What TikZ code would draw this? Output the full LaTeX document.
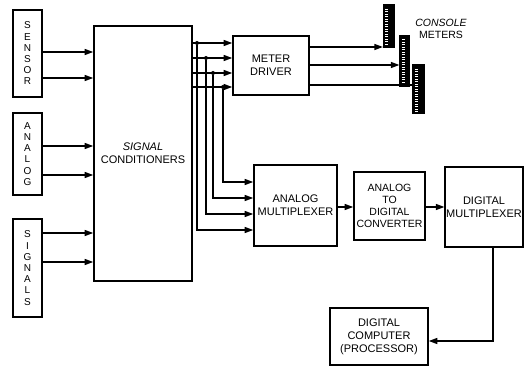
\documentclass[tikz,border=0pt]{standalone}
\usepackage{fontspec}
\setmainfont{Liberation Sans}
\usetikzlibrary{arrows.meta}
\begin{document}
\begin{tikzpicture}[x=1pt,y=-1pt,
  box/.style={draw, line width=1.6pt, inner sep=1pt, align=center,
    font=\fontsize{11}{13}\selectfont},
  vbox/.style={draw, line width=1.6pt, inner sep=0pt, align=center,
    minimum width=29pt, font=\fontsize{10}{11.2}\selectfont},
  arr/.style={line width=1.3pt, -{Triangle[length=8.5pt,width=6pt]}},
  ln/.style={line width=1.3pt},
  dot/.style={circle, fill=black, inner sep=0pt, minimum size=4pt},
  meter/.style={draw, fill=black, line width=1.2pt, inner sep=0pt,
    path picture={\foreach \k in {4,6.5,...,60}
      \draw[white, line width=0.8pt] ([xshift=1.8pt,yshift=-\k pt]path picture bounding box.north west) -- ++(3pt,0);}}]
\useasboundingbox (0,0) rectangle (525,366);

% input boxes
\node[vbox, minimum height=87pt] (sensor) at (27.5,53.5) {S\\E\\N\\S\\O\\R};
\node[vbox, minimum height=82pt] (analog) at (27.5,154) {A\\N\\A\\L\\O\\G};
\node[vbox, minimum height=98pt] (signals) at (27.5,268) {S\\I\\G\\N\\A\\L\\S};

% main blocks
\node[box, minimum width=98pt, minimum height=255pt] (sc) at (143,153.5) {\itshape SIGNAL\\CONDITIONERS};
\node[box, minimum width=76pt, minimum height=59pt] (md) at (271,65.5) {METER\\DRIVER};
\node[box, minimum width=83pt, minimum height=81pt] (am) at (295.5,205.5) {ANALOG\\MULTIPLEXER};
\node[box, minimum width=71pt, minimum height=68pt, font=\fontsize{10.5}{12}\selectfont] (adc) at (389.5,206) {ANALOG\\TO\\DIGITAL\\CONVERTER};
\node[box, minimum width=77pt, minimum height=80pt] (dm) at (484,207) {DIGITAL\\MULTIPLEXER};
\node[box, minimum width=98pt, minimum height=57pt] (dc) at (379,336.5) {DIGITAL\\COMPUTER\\(PROCESSOR)};

% meters
\node[meter, minimum width=11pt, minimum height=42pt] (m1) at (389,26) {};
\node[meter, minimum width=9pt, minimum height=51pt] (m2) at (404.5,61) {};
\node[meter, minimum width=11pt, minimum height=48pt] (m3) at (418.5,89) {};
\node[align=center, font=\fontsize{10.5}{12.5}\selectfont] (cm) at (441,29) {\itshape CONSOLE\\METERS};

% inputs to signal conditioners
\draw[arr] (sensor.east |- 0,52) -- (sc.west |- 0,52);
\draw[arr] (sensor.east |- 0,78) -- (sc.west |- 0,78);
\draw[arr] (analog.east |- 0,146) -- (sc.west |- 0,146);
\draw[arr] (analog.east |- 0,175) -- (sc.west |- 0,175);
\draw[arr] (signals.east |- 0,233) -- (sc.west |- 0,233);
\draw[arr] (signals.east |- 0,262) -- (sc.west |- 0,262);

% branch points
\node[dot] (b1) at (197,43) {};
\node[dot] (b2) at (206,58) {};
\node[dot] (b3) at (213,73) {};
\node[dot] (b4) at (223,87) {};

% outputs to meter driver
\draw[arr] (sc.east |- b1) -- (md.west |- b1);
\draw[arr] (sc.east |- b2) -- (md.west |- b2);
\draw[arr] (sc.east |- b3) -- (md.west |- b3);
\draw[arr] (sc.east |- b4) -- (md.west |- b4);

% branches to analog multiplexer
\draw[arr] (b1) |- (am.west |- 0,230);
\draw[arr] (b2) |- (am.west |- 0,214);
\draw[arr] (b3) |- (am.west |- 0,198);
\draw[arr] (b4) |- (am.west |- 0,182);

% meter driver to meters
\draw[arr] (md.east |- 0,47) -- (m1.west |- 0,47);
\draw[arr] (md.east |- 0,65) -- (m2.west |- 0,65);
\draw[ln] (md.east |- 0,85) -- (m3.west |- 0,85);

% chain
\draw[arr] (am.east |- 0,207) -- (adc.west |- 0,207);
\draw[arr] (adc.east |- 0,207) -- (dm.west |- 0,207);
\draw[arr] (dm.south -| 493,0) |- (dc.east |- 0,341);
\end{tikzpicture}
\end{document}
